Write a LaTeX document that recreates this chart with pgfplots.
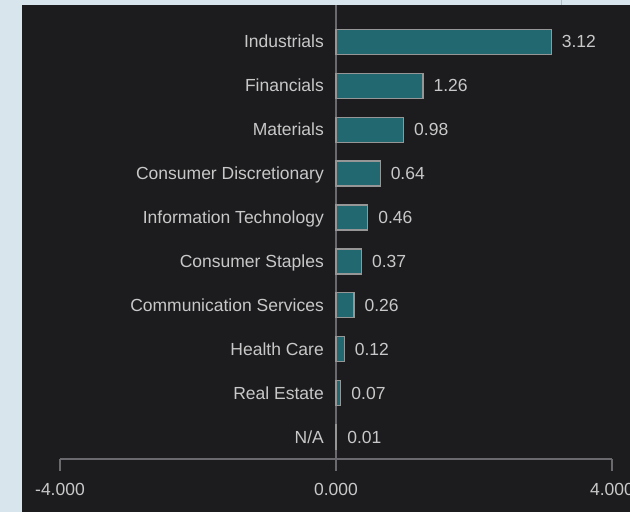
\documentclass[border=0pt]{standalone}
\usepackage{pgfplots}
\pgfplotsset{compat=1.18}
\usepackage{fontspec}
\setmainfont{Liberation Sans}
\definecolor{pagebg}{RGB}{217,229,236}
\definecolor{panel}{RGB}{28,28,30}
\definecolor{barfill}{RGB}{34,104,112}
\definecolor{barline}{RGB}{150,150,150}
\definecolor{axisgray}{RGB}{105,105,110}
\definecolor{txt}{RGB}{200,200,200}
\definecolor{seam}{RGB}{175,190,200}
\begin{document}
\begin{tikzpicture}
\fill[pagebg] (0,0) rectangle (630bp,512bp);
\fill[panel] (22bp,0) rectangle (630bp,507bp);
\draw[seam, line width=0.8bp] (561bp,507bp) -- (561bp,512bp);
\begin{axis}[
  at={(60bp,53bp)}, anchor=south west,
  scale only axis, width=552bp, height=454bp,
  xmin=-4, xmax=4, ymin=-0.5, ymax=9.84,
  xbar, bar width=25bp,
  axis x line=bottom, axis y line=left,
  x axis line style={-, draw=axisgray, line width=1.5bp},
  y axis line style={draw=none},
  xtick={-4,0,4}, xticklabels={-4.000,0.000,4.000},
  xtick align=outside, major tick length=12bp,
  x tick style={draw=axisgray, line width=1.5bp},
  xticklabel style={font=\fontsize{17.5bp}{20bp}\selectfont, text=txt, yshift=-9bp},
  ytick={0,...,9},
  yticklabels={N/A, Real Estate, Health Care, Communication Services, Consumer Staples, Information Technology, Consumer Discretionary, Materials, Financials, Industrials},
  y tick style={draw=none},
  yticklabel style={font=\fontsize{17.5bp}{20bp}\selectfont, text=txt, anchor=base east, inner sep=0pt, xshift=270bp, yshift=-6bp},
  point meta=x,
  nodes near coords,
  nodes near coords style={font=\fontsize{17.5bp}{20bp}\selectfont, text=txt, anchor=west, inner sep=0pt, xshift=10bp},
  /pgf/number format/.cd, fixed, fixed zerofill, precision=2, assume math mode=true,
]
\draw[axisgray, line width=1.5bp] (axis cs:0,-0.5) -- (axis cs:0,9.84);
\addplot[fill=barfill, draw=barline, line width=1.2bp] coordinates {(0.01,0) (0.07,1) (0.12,2) (0.26,3) (0.37,4) (0.46,5) (0.64,6) (0.98,7) (1.26,8) (3.12,9)};
\end{axis}
\pgfresetboundingbox
\useasboundingbox (0,0) rectangle (630bp,512bp);
\end{tikzpicture}
\end{document}
